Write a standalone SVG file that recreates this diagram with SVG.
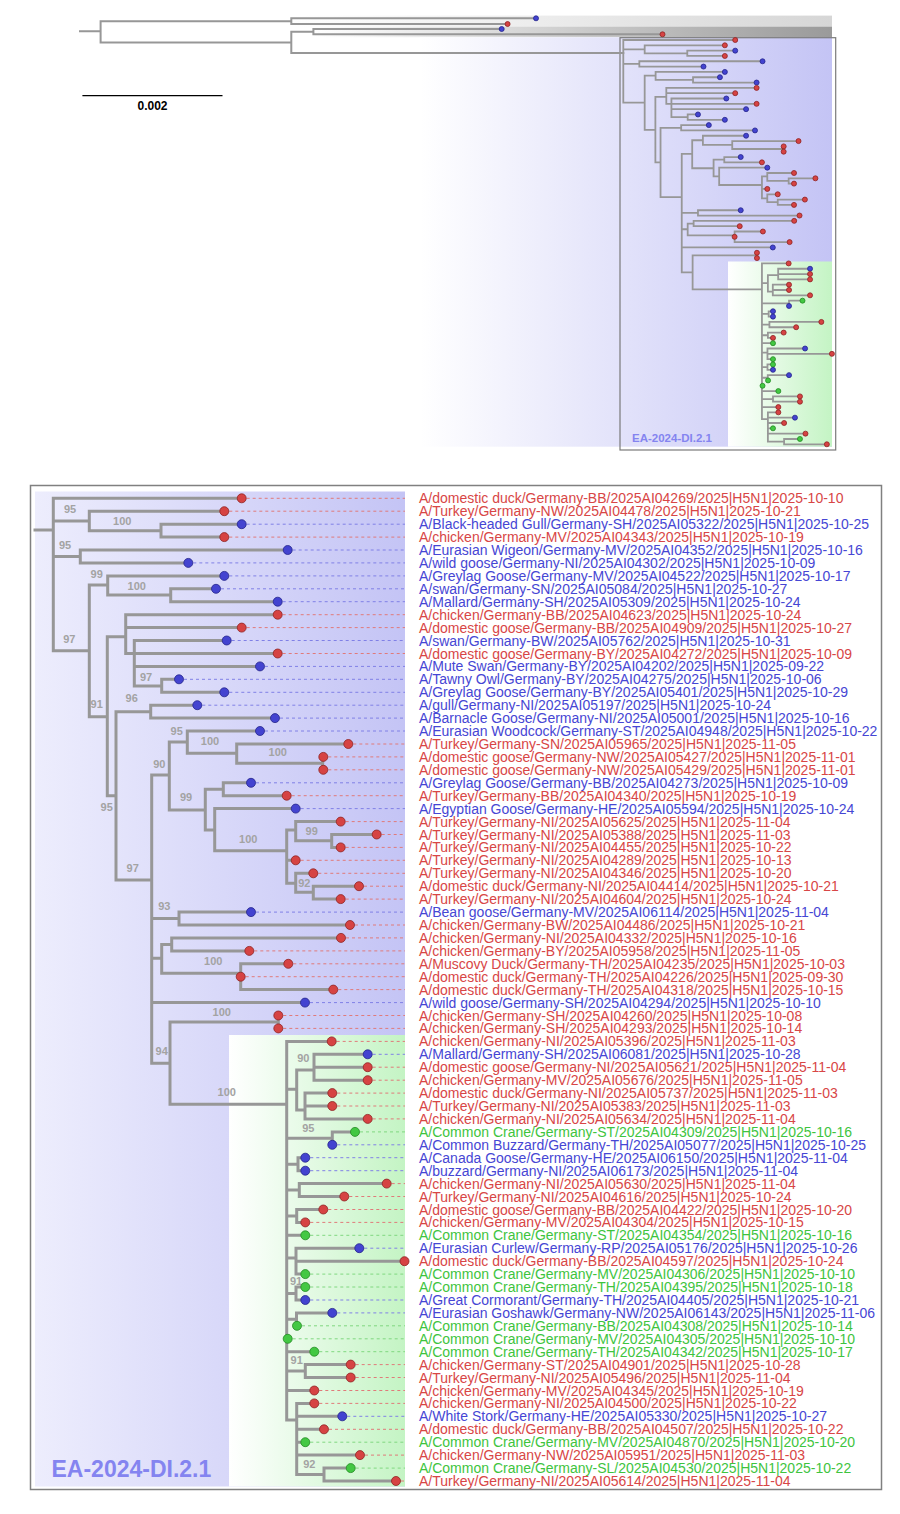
<svg xmlns="http://www.w3.org/2000/svg" xmlns:xlink="http://www.w3.org/1999/xlink" width="900" height="1514" viewBox="0 0 900 1514">
<defs>
<linearGradient id="gBlue" gradientUnits="userSpaceOnUse" x1="35" y1="0" x2="405" y2="0"><stop offset="0" stop-color="#ededfd"/><stop offset="1" stop-color="#c4c4f5"/></linearGradient>
<linearGradient id="gGreen" gradientUnits="userSpaceOnUse" x1="229" y1="0" x2="405" y2="0"><stop offset="0" stop-color="#ffffff"/><stop offset="1" stop-color="#c4f4c4"/></linearGradient>
<linearGradient id="gBlueTop" gradientUnits="userSpaceOnUse" x1="420" y1="0" x2="832" y2="0"><stop offset="0" stop-color="#ffffff"/><stop offset="1" stop-color="#c4c4f5"/></linearGradient>
<linearGradient id="gGreenTop" gradientUnits="userSpaceOnUse" x1="728" y1="0" x2="832" y2="0"><stop offset="0" stop-color="#ffffff"/><stop offset="1" stop-color="#c4f4c4"/></linearGradient>
<linearGradient id="gGrayL" gradientUnits="userSpaceOnUse" x1="291" y1="0" x2="832" y2="0"><stop offset="0" stop-color="#ffffff"/><stop offset="1" stop-color="#d6d6d6"/></linearGradient>
<linearGradient id="gGrayD" gradientUnits="userSpaceOnUse" x1="313" y1="0" x2="832" y2="0"><stop offset="0" stop-color="#ffffff"/><stop offset="1" stop-color="#9a9a9a"/></linearGradient>
</defs>
<style>
.br{fill:none;stroke:#979797;stroke-linecap:square}
circle,ellipse{stroke-width:0.8}
.r circle,.ir{fill:#d64343;stroke:#8e2323}
.b circle,.ib{fill:#4343d0;stroke:#24248a}
.g circle,.ig{fill:#43c843;stroke:#238a23}
#tips text{font-family:"Liberation Sans",Arial,sans-serif;font-size:14px}
.r text{fill:#d84646}
.b text{fill:#4646d4}
.g text{fill:#3ec43e}
.d{fill:none;stroke-width:1;stroke-dasharray:3 3}
.r .d{stroke:#e07a7a}
.b .d{stroke:#8080e6}
.g .d{stroke:#80d880}
.bs{font-family:"Liberation Sans",Arial,sans-serif;font-size:11px;font-weight:bold;fill:#a3a3a3;text-anchor:middle}
.clade{font-family:"Liberation Sans",Arial,sans-serif;font-weight:bold;fill:#8484f0}
</style>
<rect width="900" height="1514" fill="#ffffff"/>

<!-- top overview -->
<g id="top-bg">
<rect x="291" y="15.6" width="541" height="11" fill="url(#gGrayL)"/>
<rect x="313" y="26.6" width="519" height="10.6" fill="url(#gGrayD)"/>
<rect x="420" y="37.3" width="412" height="409.4" fill="url(#gBlueTop)"/>
<rect x="728" y="261.5" width="104" height="185.2" fill="url(#gGreenTop)"/>
<rect x="620" y="37.7" width="215.7" height="412.3" fill="none" stroke="#7a7a7a" stroke-width="1.2"/>
<text class="clade" x="632" y="442" font-size="11.5px">EA-2024-DI.2.1</text>
</g>
<g id="top-connectors" class="br" stroke-width="2">
<path d="M80 31.2H100.6M100.6 21.2V42.5M100.6 21.2H291.3M291.3 18.3V24M291.3 18.3H536M291.3 24H507.6M100.6 42.5H291.3M291.3 31.7V53M291.3 31.7H313.4M313.4 29V34.3M313.4 29H501.7M313.4 34.3H662.5M291.3 53H623.3"/>
</g>
<g id="top-tips">
<circle class="ib" cx="536" cy="18.3" r="2.5"/>
<circle class="ir" cx="507.6" cy="24" r="2.5"/>
<circle class="ib" cx="501.7" cy="29" r="2.5"/>
<circle class="ir" cx="662.5" cy="34.3" r="2.5"/>
</g>
<g id="scalebar">
<line x1="82.4" y1="95.7" x2="222.5" y2="95.7" stroke="#000" stroke-width="1.3"/>
<text x="152.5" y="110" text-anchor="middle" font-family="Liberation Sans, Arial, sans-serif" font-size="12px" font-weight="bold" fill="#000">0.002</text>
</g>

<!-- lower panel background -->
<g id="panel">
<rect x="30.5" y="485.5" width="851" height="1004" fill="#ffffff" stroke="#808080" stroke-width="1.5"/>
<rect x="35" y="491.5" width="370" height="995" fill="url(#gBlue)"/>
<rect x="229" y="1035" width="176" height="451.5" fill="url(#gGreen)"/>
<text class="clade" x="51.5" y="1477.3" font-size="23px">EA-2024-DI.2.1</text>
</g>

<!-- connectors -->
<g stroke-width="3">
<g id="connectors" class="br">
<path vector-effect="non-scaling-stroke" d="M35 530H53.3M53.3 498.3V650.7M53.3 498.3H241.7
M53.3 521H89.3M89.3 511.2V530.7M89.3 511.2H224.3
M89.3 530.7H161M161 524.2V537.1M161 524.2H241.7M161 537.1H224.3
M53.3 556.5H80.3M80.3 550V562.9M80.3 550H287.7M80.3 562.9H188.3
M53.3 650.7H89.3M89.3 585V716.7
M89.3 585H107.7M107.7 575.9V595M107.7 575.9H224.3
M107.7 595H170.7M170.7 588.8V601.7M170.7 588.8H216M170.7 601.7H277.7
M89.3 716.7H107.3M107.3 636.7V795.7
M107.3 636.7H125.7M125.7 614.7V653.5M125.7 614.7H277.7M125.7 627.6H241.7
M125.7 653.5H134.3M134.3 640.5V686M134.3 640.5H226.7M134.3 653.5H277.7M134.3 666.4H260
M134.3 686H161.7M161.7 679.3V692.3M161.7 679.3H179M161.7 692.3H224.3
M107.3 795.7H116M116 711.7V880
M116 711.7H150.7M150.7 705.2V718.1M150.7 705.2H197.3M150.7 718.1H275
M116 880H151.7M151.7 775V1063.3
M151.7 775H169.3M169.3 742V810
M169.3 742H187.3M187.3 731V753.3M187.3 731H260
M187.3 753.3H236.7M236.7 744V763.3M236.7 744H348.3
M236.7 763.3H322.7M322.7 756.9V769.8
M169.3 810H205.3M205.3 789.3V830
M205.3 789.3H223.3M223.3 782.8V795.7M223.3 782.8H251M223.3 795.7H286.7
M205.3 830H214.7M214.7 808.6V850.7M214.7 808.6H295.7
M214.7 850.7H286.7M286.7 830V883.3
M286.7 830H295.7M295.7 821.6V840.7M295.7 821.6H340.7
M295.7 840.7H331.7M331.7 834.5V847.4M331.7 834.5H376.7M331.7 847.4H340.7
M286.7 860.3H295.7
M286.7 883.3H295.7M295.7 873.3V892.3M295.7 873.3H313.3
M295.7 892.3H313.3M313.3 886.2V899.1M313.3 886.2H359M313.3 899.1H340.7
M151.7 918.5H179M179 912.1V925M179 912.1H251M179 925H350
M151.7 958.3H161.7M161.7 944.4V973.3
M161.7 944.4H171.7M171.7 937.9V950.9M171.7 937.9H341M171.7 950.9H249.3
M161.7 973.3H240.7M240.7 963.8V989.6M240.7 963.8H288.3M240.7 989.6H333.3
M151.7 1002.6H305
M151.7 1063.3H170M170 1021.9V1104.3
M170 1021.9H278.3M278.3 1015.5V1028.4
M170 1104.3H286.7M286.7 1041.4V1420
M286.7 1041.4H331.7
M286.7 1089.3H296.7M296.7 1070V1110
M296.7 1070H314M314 1054.3V1080.2M314 1054.3H367.7M314 1067.2H367.7M314 1080.2H367.7
M296.7 1110H305M305 1093.1V1118.9M305 1093.1H332.3M305 1106H332.3M305 1118.9H367.7
M286.7 1138.3H332.3M332.3 1131.9V1144.8M332.3 1131.9H355
M286.7 1164.2H298M298 1157.7V1170.7M298 1157.7H305.3M298 1170.7H305.3
M286.7 1190H299.3M299.3 1183.6V1196.5M299.3 1183.6H386.7M299.3 1196.5H344.3
M286.7 1216H296.7M296.7 1209.5V1222.4M296.7 1209.5H323.3M296.7 1222.4H305.3
M286.7 1235.3H305.3
M286.7 1258H296M296 1248.2V1274.1M296 1248.2H359.3M296 1261.2H404.5M296 1274.1H305.3
M286.7 1293.5H296M296 1287V1300M296 1287H305.3M296 1300H305.3
M286.7 1319.3H296.5M296.5 1312.9V1325.8M296.5 1312.9H332.3
M286.7 1351.7H314.3
M286.7 1371H305.3M305.3 1364.6V1377.5M305.3 1364.6H350.7M305.3 1377.5H350.7
M286.7 1390.5H314.3
M286.7 1420H296.7M296.7 1403.4V1474.5M296.7 1403.4H314.3M296.7 1416.3H342.3M296.7 1429.3H324M296.7 1442.2H305.3M296.7 1455.1H360
M296.7 1474.5H324M324 1468.1V1481M324 1468.1H350.7M324 1481H396"/>
</g>
</g>

<!-- bootstrap values -->
<g id="bootstrap" class="bs">
<text x="70" y="513">95</text>
<text x="122.3" y="524.7">100</text>
<text x="65" y="549">95</text>
<text x="96.7" y="578.3">99</text>
<text x="136.7" y="589.7">100</text>
<text x="69.3" y="643">97</text>
<text x="146" y="680.7">97</text>
<text x="131.7" y="702.3">96</text>
<text x="96.7" y="708">91</text>
<text x="176.7" y="734.7">95</text>
<text x="210" y="745">100</text>
<text x="277.7" y="755.7">100</text>
<text x="159.3" y="768">90</text>
<text x="186" y="801.3">99</text>
<text x="106.7" y="810.7">95</text>
<text x="311.7" y="834.7">99</text>
<text x="248.3" y="843">100</text>
<text x="132.7" y="872.3">97</text>
<text x="304.3" y="886.7">92</text>
<text x="164.3" y="909.7">93</text>
<text x="213.3" y="965">100</text>
<text x="221.7" y="1015.7">100</text>
<text x="161.7" y="1055">94</text>
<text x="303.3" y="1062.3">90</text>
<text x="226.7" y="1096.3">100</text>
<text x="308.3" y="1132.3">95</text>
<text x="296" y="1284.7">91</text>
<text x="296.7" y="1364">91</text>
<text x="309.3" y="1468">92</text>
</g>

<!-- inset (overview of the same clade) -->
<g id="inset" transform="matrix(0.594 0 0 0.4114 591.64 -165.0)">
<use xlink:href="#connectors" href="#connectors" stroke-width="1.8"/>
<g vector-effect="non-scaling-stroke">
<ellipse class="ir" vector-effect="non-scaling-stroke" cx="241.7" cy="498.3" rx="4.21" ry="6.08"/>
<ellipse class="ir" vector-effect="non-scaling-stroke" cx="224.3" cy="511.2" rx="4.21" ry="6.08"/>
<ellipse class="ib" vector-effect="non-scaling-stroke" cx="241.7" cy="524.2" rx="4.21" ry="6.08"/>
<ellipse class="ir" vector-effect="non-scaling-stroke" cx="224.3" cy="537.1" rx="4.21" ry="6.08"/>
<ellipse class="ib" vector-effect="non-scaling-stroke" cx="287.7" cy="550" rx="4.21" ry="6.08"/>
<ellipse class="ib" vector-effect="non-scaling-stroke" cx="188.3" cy="562.9" rx="4.21" ry="6.08"/>
<ellipse class="ib" vector-effect="non-scaling-stroke" cx="224.3" cy="575.9" rx="4.21" ry="6.08"/>
<ellipse class="ib" vector-effect="non-scaling-stroke" cx="216" cy="588.8" rx="4.21" ry="6.08"/>
<ellipse class="ib" vector-effect="non-scaling-stroke" cx="277.7" cy="601.7" rx="4.21" ry="6.08"/>
<ellipse class="ir" vector-effect="non-scaling-stroke" cx="277.7" cy="614.7" rx="4.21" ry="6.08"/>
<ellipse class="ir" vector-effect="non-scaling-stroke" cx="241.7" cy="627.6" rx="4.21" ry="6.08"/>
<ellipse class="ib" vector-effect="non-scaling-stroke" cx="226.7" cy="640.5" rx="4.21" ry="6.08"/>
<ellipse class="ir" vector-effect="non-scaling-stroke" cx="277.7" cy="653.5" rx="4.21" ry="6.08"/>
<ellipse class="ib" vector-effect="non-scaling-stroke" cx="260" cy="666.4" rx="4.21" ry="6.08"/>
<ellipse class="ib" vector-effect="non-scaling-stroke" cx="179" cy="679.3" rx="4.21" ry="6.08"/>
<ellipse class="ib" vector-effect="non-scaling-stroke" cx="224.3" cy="692.3" rx="4.21" ry="6.08"/>
<ellipse class="ib" vector-effect="non-scaling-stroke" cx="197.3" cy="705.2" rx="4.21" ry="6.08"/>
<ellipse class="ib" vector-effect="non-scaling-stroke" cx="275" cy="718.1" rx="4.21" ry="6.08"/>
<ellipse class="ib" vector-effect="non-scaling-stroke" cx="260" cy="731" rx="4.21" ry="6.08"/>
<ellipse class="ir" vector-effect="non-scaling-stroke" cx="348.3" cy="744" rx="4.21" ry="6.08"/>
<ellipse class="ir" vector-effect="non-scaling-stroke" cx="323.3" cy="756.9" rx="4.21" ry="6.08"/>
<ellipse class="ir" vector-effect="non-scaling-stroke" cx="323.3" cy="769.8" rx="4.21" ry="6.08"/>
<ellipse class="ib" vector-effect="non-scaling-stroke" cx="251" cy="782.8" rx="4.21" ry="6.08"/>
<ellipse class="ir" vector-effect="non-scaling-stroke" cx="286.7" cy="795.7" rx="4.21" ry="6.08"/>
<ellipse class="ib" vector-effect="non-scaling-stroke" cx="295.7" cy="808.6" rx="4.21" ry="6.08"/>
<ellipse class="ir" vector-effect="non-scaling-stroke" cx="340.7" cy="821.6" rx="4.21" ry="6.08"/>
<ellipse class="ir" vector-effect="non-scaling-stroke" cx="376.7" cy="834.5" rx="4.21" ry="6.08"/>
<ellipse class="ir" vector-effect="non-scaling-stroke" cx="340.7" cy="847.4" rx="4.21" ry="6.08"/>
<ellipse class="ir" vector-effect="non-scaling-stroke" cx="295.7" cy="860.3" rx="4.21" ry="6.08"/>
<ellipse class="ir" vector-effect="non-scaling-stroke" cx="313.3" cy="873.3" rx="4.21" ry="6.08"/>
<ellipse class="ir" vector-effect="non-scaling-stroke" cx="359" cy="886.2" rx="4.21" ry="6.08"/>
<ellipse class="ir" vector-effect="non-scaling-stroke" cx="340.7" cy="899.1" rx="4.21" ry="6.08"/>
<ellipse class="ib" vector-effect="non-scaling-stroke" cx="251" cy="912.1" rx="4.21" ry="6.08"/>
<ellipse class="ir" vector-effect="non-scaling-stroke" cx="350" cy="925" rx="4.21" ry="6.08"/>
<ellipse class="ir" vector-effect="non-scaling-stroke" cx="341" cy="937.9" rx="4.21" ry="6.08"/>
<ellipse class="ir" vector-effect="non-scaling-stroke" cx="249.3" cy="950.9" rx="4.21" ry="6.08"/>
<ellipse class="ir" vector-effect="non-scaling-stroke" cx="288.3" cy="963.8" rx="4.21" ry="6.08"/>
<ellipse class="ir" vector-effect="non-scaling-stroke" cx="240.7" cy="976.7" rx="4.21" ry="6.08"/>
<ellipse class="ir" vector-effect="non-scaling-stroke" cx="333.3" cy="989.6" rx="4.21" ry="6.08"/>
<ellipse class="ib" vector-effect="non-scaling-stroke" cx="305" cy="1002.6" rx="4.21" ry="6.08"/>
<ellipse class="ir" vector-effect="non-scaling-stroke" cx="278.3" cy="1015.5" rx="4.21" ry="6.08"/>
<ellipse class="ir" vector-effect="non-scaling-stroke" cx="278.3" cy="1028.4" rx="4.21" ry="6.08"/>
<ellipse class="ir" vector-effect="non-scaling-stroke" cx="331.7" cy="1041.4" rx="4.21" ry="6.08"/>
<ellipse class="ib" vector-effect="non-scaling-stroke" cx="367.7" cy="1054.3" rx="4.21" ry="6.08"/>
<ellipse class="ir" vector-effect="non-scaling-stroke" cx="367.7" cy="1067.2" rx="4.21" ry="6.08"/>
<ellipse class="ir" vector-effect="non-scaling-stroke" cx="367.7" cy="1080.2" rx="4.21" ry="6.08"/>
<ellipse class="ir" vector-effect="non-scaling-stroke" cx="332.3" cy="1093.1" rx="4.21" ry="6.08"/>
<ellipse class="ir" vector-effect="non-scaling-stroke" cx="332.3" cy="1106" rx="4.21" ry="6.08"/>
<ellipse class="ir" vector-effect="non-scaling-stroke" cx="367.7" cy="1118.9" rx="4.21" ry="6.08"/>
<ellipse class="ig" vector-effect="non-scaling-stroke" cx="355" cy="1131.9" rx="4.21" ry="6.08"/>
<ellipse class="ib" vector-effect="non-scaling-stroke" cx="332.3" cy="1144.8" rx="4.21" ry="6.08"/>
<ellipse class="ib" vector-effect="non-scaling-stroke" cx="305.3" cy="1157.7" rx="4.21" ry="6.08"/>
<ellipse class="ib" vector-effect="non-scaling-stroke" cx="305.3" cy="1170.7" rx="4.21" ry="6.08"/>
<ellipse class="ir" vector-effect="non-scaling-stroke" cx="386.7" cy="1183.6" rx="4.21" ry="6.08"/>
<ellipse class="ir" vector-effect="non-scaling-stroke" cx="344.3" cy="1196.5" rx="4.21" ry="6.08"/>
<ellipse class="ir" vector-effect="non-scaling-stroke" cx="323.3" cy="1209.5" rx="4.21" ry="6.08"/>
<ellipse class="ir" vector-effect="non-scaling-stroke" cx="305.3" cy="1222.4" rx="4.21" ry="6.08"/>
<ellipse class="ig" vector-effect="non-scaling-stroke" cx="305.3" cy="1235.3" rx="4.21" ry="6.08"/>
<ellipse class="ib" vector-effect="non-scaling-stroke" cx="359.3" cy="1248.2" rx="4.21" ry="6.08"/>
<ellipse class="ir" vector-effect="non-scaling-stroke" cx="404.5" cy="1261.2" rx="4.21" ry="6.08"/>
<ellipse class="ig" vector-effect="non-scaling-stroke" cx="305.3" cy="1274.1" rx="4.21" ry="6.08"/>
<ellipse class="ig" vector-effect="non-scaling-stroke" cx="305.3" cy="1287" rx="4.21" ry="6.08"/>
<ellipse class="ib" vector-effect="non-scaling-stroke" cx="305.3" cy="1300" rx="4.21" ry="6.08"/>
<ellipse class="ib" vector-effect="non-scaling-stroke" cx="332.3" cy="1312.9" rx="4.21" ry="6.08"/>
<ellipse class="ig" vector-effect="non-scaling-stroke" cx="297" cy="1325.8" rx="4.21" ry="6.08"/>
<ellipse class="ig" vector-effect="non-scaling-stroke" cx="287.7" cy="1338.8" rx="4.21" ry="6.08"/>
<ellipse class="ig" vector-effect="non-scaling-stroke" cx="314.3" cy="1351.7" rx="4.21" ry="6.08"/>
<ellipse class="ir" vector-effect="non-scaling-stroke" cx="350.7" cy="1364.6" rx="4.21" ry="6.08"/>
<ellipse class="ir" vector-effect="non-scaling-stroke" cx="350.7" cy="1377.5" rx="4.21" ry="6.08"/>
<ellipse class="ir" vector-effect="non-scaling-stroke" cx="314.3" cy="1390.5" rx="4.21" ry="6.08"/>
<ellipse class="ir" vector-effect="non-scaling-stroke" cx="314.3" cy="1403.4" rx="4.21" ry="6.08"/>
<ellipse class="ib" vector-effect="non-scaling-stroke" cx="342.3" cy="1416.3" rx="4.21" ry="6.08"/>
<ellipse class="ir" vector-effect="non-scaling-stroke" cx="324" cy="1429.3" rx="4.21" ry="6.08"/>
<ellipse class="ig" vector-effect="non-scaling-stroke" cx="305.3" cy="1442.2" rx="4.21" ry="6.08"/>
<ellipse class="ir" vector-effect="non-scaling-stroke" cx="360" cy="1455.1" rx="4.21" ry="6.08"/>
<ellipse class="ig" vector-effect="non-scaling-stroke" cx="350.7" cy="1468.1" rx="4.21" ry="6.08"/>
<ellipse class="ir" vector-effect="non-scaling-stroke" cx="396" cy="1481" rx="4.21" ry="6.08"/>
</g>
</g>

<!-- tips of the detailed tree -->
<g id="tips">
<g id="t1" class="r"><path class="d" d="M246.7 498.3H405"/><circle cx="241.7" cy="498.3" r="4.5"/><text x="419" y="503.3">A/domestic duck/Germany-BB/2025AI04269/2025|H5N1|2025-10-10</text></g>
<g id="t2" class="r"><path class="d" d="M229.3 511.2H405"/><circle cx="224.3" cy="511.2" r="4.5"/><text x="419" y="516.2">A/Turkey/Germany-NW/2025AI04478/2025|H5N1|2025-10-21</text></g>
<g id="t3" class="b"><path class="d" d="M246.7 524.2H405"/><circle cx="241.7" cy="524.2" r="4.5"/><text x="419" y="529.2">A/Black-headed Gull/Germany-SH/2025AI05322/2025|H5N1|2025-10-25</text></g>
<g id="t4" class="r"><path class="d" d="M229.3 537.1H405"/><circle cx="224.3" cy="537.1" r="4.5"/><text x="419" y="542.1">A/chicken/Germany-MV/2025AI04343/2025|H5N1|2025-10-19</text></g>
<g id="t5" class="b"><path class="d" d="M292.7 550H405"/><circle cx="287.7" cy="550" r="4.5"/><text x="419" y="555">A/Eurasian Wigeon/Germany-MV/2025AI04352/2025|H5N1|2025-10-16</text></g>
<g id="t6" class="b"><path class="d" d="M193.3 562.9H405"/><circle cx="188.3" cy="562.9" r="4.5"/><text x="419" y="567.9">A/wild goose/Germany-NI/2025AI04302/2025|H5N1|2025-10-09</text></g>
<g id="t7" class="b"><path class="d" d="M229.3 575.9H405"/><circle cx="224.3" cy="575.9" r="4.5"/><text x="419" y="580.9">A/Greylag Goose/Germany-MV/2025AI04522/2025|H5N1|2025-10-17</text></g>
<g id="t8" class="b"><path class="d" d="M221 588.8H405"/><circle cx="216" cy="588.8" r="4.5"/><text x="419" y="593.8">A/swan/Germany-SN/2025AI05084/2025|H5N1|2025-10-27</text></g>
<g id="t9" class="b"><path class="d" d="M282.7 601.7H405"/><circle cx="277.7" cy="601.7" r="4.5"/><text x="419" y="606.7">A/Mallard/Germany-SH/2025AI05309/2025|H5N1|2025-10-24</text></g>
<g id="t10" class="r"><path class="d" d="M282.7 614.7H405"/><circle cx="277.7" cy="614.7" r="4.5"/><text x="419" y="619.7">A/chicken/Germany-BB/2025AI04623/2025|H5N1|2025-10-24</text></g>
<g id="t11" class="r"><path class="d" d="M246.7 627.6H405"/><circle cx="241.7" cy="627.6" r="4.5"/><text x="419" y="632.6">A/domestic goose/Germany-BB/2025AI04909/2025|H5N1|2025-10-27</text></g>
<g id="t12" class="b"><path class="d" d="M231.7 640.5H405"/><circle cx="226.7" cy="640.5" r="4.5"/><text x="419" y="645.5">A/swan/Germany-BW/2025AI05762/2025|H5N1|2025-10-31</text></g>
<g id="t13" class="r"><path class="d" d="M282.7 653.5H405"/><circle cx="277.7" cy="653.5" r="4.5"/><text x="419" y="658.5">A/domestic goose/Germany-BY/2025AI04272/2025|H5N1|2025-10-09</text></g>
<g id="t14" class="b"><path class="d" d="M265 666.4H405"/><circle cx="260" cy="666.4" r="4.5"/><text x="419" y="671.4">A/Mute Swan/Germany-BY/2025AI04202/2025|H5N1|2025-09-22</text></g>
<g id="t15" class="b"><path class="d" d="M184 679.3H405"/><circle cx="179" cy="679.3" r="4.5"/><text x="419" y="684.3">A/Tawny Owl/Germany-BY/2025AI04275/2025|H5N1|2025-10-06</text></g>
<g id="t16" class="b"><path class="d" d="M229.3 692.3H405"/><circle cx="224.3" cy="692.3" r="4.5"/><text x="419" y="697.3">A/Greylag Goose/Germany-BY/2025AI05401/2025|H5N1|2025-10-29</text></g>
<g id="t17" class="b"><path class="d" d="M202.3 705.2H405"/><circle cx="197.3" cy="705.2" r="4.5"/><text x="419" y="710.2">A/gull/Germany-NI/2025AI05197/2025|H5N1|2025-10-24</text></g>
<g id="t18" class="b"><path class="d" d="M280 718.1H405"/><circle cx="275" cy="718.1" r="4.5"/><text x="419" y="723.1">A/Barnacle Goose/Germany-NI/2025AI05001/2025|H5N1|2025-10-16</text></g>
<g id="t19" class="b"><path class="d" d="M265 731H405"/><circle cx="260" cy="731" r="4.5"/><text x="419" y="736">A/Eurasian Woodcock/Germany-ST/2025AI04948/2025|H5N1|2025-10-22</text></g>
<g id="t20" class="r"><path class="d" d="M353.3 744H405"/><circle cx="348.3" cy="744" r="4.5"/><text x="419" y="749">A/Turkey/Germany-SN/2025AI05965/2025|H5N1|2025-11-05</text></g>
<g id="t21" class="r"><path class="d" d="M328.3 756.9H405"/><circle cx="323.3" cy="756.9" r="4.5"/><text x="419" y="761.9">A/domestic goose/Germany-NW/2025AI05427/2025|H5N1|2025-11-01</text></g>
<g id="t22" class="r"><path class="d" d="M328.3 769.8H405"/><circle cx="323.3" cy="769.8" r="4.5"/><text x="419" y="774.8">A/domestic goose/Germany-NW/2025AI05429/2025|H5N1|2025-11-01</text></g>
<g id="t23" class="b"><path class="d" d="M256 782.8H405"/><circle cx="251" cy="782.8" r="4.5"/><text x="419" y="787.8">A/Greylag Goose/Germany-BB/2025AI04273/2025|H5N1|2025-10-09</text></g>
<g id="t24" class="r"><path class="d" d="M291.7 795.7H405"/><circle cx="286.7" cy="795.7" r="4.5"/><text x="419" y="800.7">A/Turkey/Germany-BB/2025AI04340/2025|H5N1|2025-10-19</text></g>
<g id="t25" class="b"><path class="d" d="M300.7 808.6H405"/><circle cx="295.7" cy="808.6" r="4.5"/><text x="419" y="813.6">A/Egyptian Goose/Germany-HE/2025AI05594/2025|H5N1|2025-10-24</text></g>
<g id="t26" class="r"><path class="d" d="M345.7 821.6H405"/><circle cx="340.7" cy="821.6" r="4.5"/><text x="419" y="826.6">A/Turkey/Germany-NI/2025AI05625/2025|H5N1|2025-11-04</text></g>
<g id="t27" class="r"><path class="d" d="M381.7 834.5H405"/><circle cx="376.7" cy="834.5" r="4.5"/><text x="419" y="839.5">A/Turkey/Germany-NI/2025AI05388/2025|H5N1|2025-11-03</text></g>
<g id="t28" class="r"><path class="d" d="M345.7 847.4H405"/><circle cx="340.7" cy="847.4" r="4.5"/><text x="419" y="852.4">A/Turkey/Germany-NI/2025AI04455/2025|H5N1|2025-10-22</text></g>
<g id="t29" class="r"><path class="d" d="M300.7 860.3H405"/><circle cx="295.7" cy="860.3" r="4.5"/><text x="419" y="865.3">A/Turkey/Germany-NI/2025AI04289/2025|H5N1|2025-10-13</text></g>
<g id="t30" class="r"><path class="d" d="M318.3 873.3H405"/><circle cx="313.3" cy="873.3" r="4.5"/><text x="419" y="878.3">A/Turkey/Germany-NI/2025AI04346/2025|H5N1|2025-10-20</text></g>
<g id="t31" class="r"><path class="d" d="M364 886.2H405"/><circle cx="359" cy="886.2" r="4.5"/><text x="419" y="891.2">A/domestic duck/Germany-NI/2025AI04414/2025|H5N1|2025-10-21</text></g>
<g id="t32" class="r"><path class="d" d="M345.7 899.1H405"/><circle cx="340.7" cy="899.1" r="4.5"/><text x="419" y="904.1">A/Turkey/Germany-NI/2025AI04604/2025|H5N1|2025-10-24</text></g>
<g id="t33" class="b"><path class="d" d="M256 912.1H405"/><circle cx="251" cy="912.1" r="4.5"/><text x="419" y="917.1">A/Bean goose/Germany-MV/2025AI06114/2025|H5N1|2025-11-04</text></g>
<g id="t34" class="r"><path class="d" d="M355 925H405"/><circle cx="350" cy="925" r="4.5"/><text x="419" y="930">A/chicken/Germany-BW/2025AI04486/2025|H5N1|2025-10-21</text></g>
<g id="t35" class="r"><path class="d" d="M346 937.9H405"/><circle cx="341" cy="937.9" r="4.5"/><text x="419" y="942.9">A/chicken/Germany-NI/2025AI04332/2025|H5N1|2025-10-16</text></g>
<g id="t36" class="r"><path class="d" d="M254.3 950.9H405"/><circle cx="249.3" cy="950.9" r="4.5"/><text x="419" y="955.9">A/chicken/Germany-BY/2025AI05958/2025|H5N1|2025-11-05</text></g>
<g id="t37" class="r"><path class="d" d="M293.3 963.8H405"/><circle cx="288.3" cy="963.8" r="4.5"/><text x="419" y="968.8">A/Muscovy Duck/Germany-TH/2025AI04235/2025|H5N1|2025-10-03</text></g>
<g id="t38" class="r"><path class="d" d="M245.7 976.7H405"/><circle cx="240.7" cy="976.7" r="4.5"/><text x="419" y="981.7">A/domestic duck/Germany-TH/2025AI04226/2025|H5N1|2025-09-30</text></g>
<g id="t39" class="r"><path class="d" d="M338.3 989.6H405"/><circle cx="333.3" cy="989.6" r="4.5"/><text x="419" y="994.6">A/domestic duck/Germany-TH/2025AI04318/2025|H5N1|2025-10-15</text></g>
<g id="t40" class="b"><path class="d" d="M310 1002.6H405"/><circle cx="305" cy="1002.6" r="4.5"/><text x="419" y="1007.6">A/wild goose/Germany-SH/2025AI04294/2025|H5N1|2025-10-10</text></g>
<g id="t41" class="r"><path class="d" d="M283.3 1015.5H405"/><circle cx="278.3" cy="1015.5" r="4.5"/><text x="419" y="1020.5">A/chicken/Germany-SH/2025AI04260/2025|H5N1|2025-10-08</text></g>
<g id="t42" class="r"><path class="d" d="M283.3 1028.4H405"/><circle cx="278.3" cy="1028.4" r="4.5"/><text x="419" y="1033.4">A/chicken/Germany-SH/2025AI04293/2025|H5N1|2025-10-14</text></g>
<g id="t43" class="r"><path class="d" d="M336.7 1041.4H405"/><circle cx="331.7" cy="1041.4" r="4.5"/><text x="419" y="1046.4">A/chicken/Germany-NI/2025AI05396/2025|H5N1|2025-11-03</text></g>
<g id="t44" class="b"><path class="d" d="M372.7 1054.3H405"/><circle cx="367.7" cy="1054.3" r="4.5"/><text x="419" y="1059.3">A/Mallard/Germany-SH/2025AI06081/2025|H5N1|2025-10-28</text></g>
<g id="t45" class="r"><path class="d" d="M372.7 1067.2H405"/><circle cx="367.7" cy="1067.2" r="4.5"/><text x="419" y="1072.2">A/domestic goose/Germany-NI/2025AI05621/2025|H5N1|2025-11-04</text></g>
<g id="t46" class="r"><path class="d" d="M372.7 1080.2H405"/><circle cx="367.7" cy="1080.2" r="4.5"/><text x="419" y="1085.2">A/chicken/Germany-MV/2025AI05676/2025|H5N1|2025-11-05</text></g>
<g id="t47" class="r"><path class="d" d="M337.3 1093.1H405"/><circle cx="332.3" cy="1093.1" r="4.5"/><text x="419" y="1098.1">A/domestic duck/Germany-NI/2025AI05737/2025|H5N1|2025-11-03</text></g>
<g id="t48" class="r"><path class="d" d="M337.3 1106H405"/><circle cx="332.3" cy="1106" r="4.5"/><text x="419" y="1111">A/Turkey/Germany-NI/2025AI05383/2025|H5N1|2025-11-03</text></g>
<g id="t49" class="r"><path class="d" d="M372.7 1118.9H405"/><circle cx="367.7" cy="1118.9" r="4.5"/><text x="419" y="1123.9">A/chicken/Germany-NI/2025AI05634/2025|H5N1|2025-11-04</text></g>
<g id="t50" class="g"><path class="d" d="M360 1131.9H405"/><circle cx="355" cy="1131.9" r="4.5"/><text x="419" y="1136.9">A/Common Crane/Germany-ST/2025AI04309/2025|H5N1|2025-10-16</text></g>
<g id="t51" class="b"><path class="d" d="M337.3 1144.8H405"/><circle cx="332.3" cy="1144.8" r="4.5"/><text x="419" y="1149.8">A/Common Buzzard/Germany-TH/2025AI05077/2025|H5N1|2025-10-25</text></g>
<g id="t52" class="b"><path class="d" d="M310.3 1157.7H405"/><circle cx="305.3" cy="1157.7" r="4.5"/><text x="419" y="1162.7">A/Canada Goose/Germany-HE/2025AI06150/2025|H5N1|2025-11-04</text></g>
<g id="t53" class="b"><path class="d" d="M310.3 1170.7H405"/><circle cx="305.3" cy="1170.7" r="4.5"/><text x="419" y="1175.7">A/buzzard/Germany-NI/2025AI06173/2025|H5N1|2025-11-04</text></g>
<g id="t54" class="r"><path class="d" d="M391.7 1183.6H405"/><circle cx="386.7" cy="1183.6" r="4.5"/><text x="419" y="1188.6">A/chicken/Germany-NI/2025AI05630/2025|H5N1|2025-11-04</text></g>
<g id="t55" class="r"><path class="d" d="M349.3 1196.5H405"/><circle cx="344.3" cy="1196.5" r="4.5"/><text x="419" y="1201.5">A/Turkey/Germany-NI/2025AI04616/2025|H5N1|2025-10-24</text></g>
<g id="t56" class="r"><path class="d" d="M328.3 1209.5H405"/><circle cx="323.3" cy="1209.5" r="4.5"/><text x="419" y="1214.5">A/domestic goose/Germany-BB/2025AI04422/2025|H5N1|2025-10-20</text></g>
<g id="t57" class="r"><path class="d" d="M310.3 1222.4H405"/><circle cx="305.3" cy="1222.4" r="4.5"/><text x="419" y="1227.4">A/chicken/Germany-MV/2025AI04304/2025|H5N1|2025-10-15</text></g>
<g id="t58" class="g"><path class="d" d="M310.3 1235.3H405"/><circle cx="305.3" cy="1235.3" r="4.5"/><text x="419" y="1240.3">A/Common Crane/Germany-ST/2025AI04354/2025|H5N1|2025-10-16</text></g>
<g id="t59" class="b"><path class="d" d="M364.3 1248.2H405"/><circle cx="359.3" cy="1248.2" r="4.5"/><text x="419" y="1253.2">A/Eurasian Curlew/Germany-RP/2025AI05176/2025|H5N1|2025-10-26</text></g>
<g id="t60" class="r"><circle cx="404.5" cy="1261.2" r="4.5"/><text x="419" y="1266.2">A/domestic duck/Germany-BB/2025AI04597/2025|H5N1|2025-10-24</text></g>
<g id="t61" class="g"><path class="d" d="M310.3 1274.1H405"/><circle cx="305.3" cy="1274.1" r="4.5"/><text x="419" y="1279.1">A/Common Crane/Germany-MV/2025AI04306/2025|H5N1|2025-10-10</text></g>
<g id="t62" class="g"><path class="d" d="M310.3 1287H405"/><circle cx="305.3" cy="1287" r="4.5"/><text x="419" y="1292">A/Common Crane/Germany-TH/2025AI04395/2025|H5N1|2025-10-18</text></g>
<g id="t63" class="b"><path class="d" d="M310.3 1300H405"/><circle cx="305.3" cy="1300" r="4.5"/><text x="419" y="1305">A/Great Cormorant/Germany-TH/2025AI04405/2025|H5N1|2025-10-21</text></g>
<g id="t64" class="b"><path class="d" d="M337.3 1312.9H405"/><circle cx="332.3" cy="1312.9" r="4.5"/><text x="419" y="1317.9">A/Eurasian Goshawk/Germany-NW/2025AI06143/2025|H5N1|2025-11-06</text></g>
<g id="t65" class="g"><path class="d" d="M302 1325.8H405"/><circle cx="297" cy="1325.8" r="4.5"/><text x="419" y="1330.8">A/Common Crane/Germany-BB/2025AI04308/2025|H5N1|2025-10-14</text></g>
<g id="t66" class="g"><path class="d" d="M292.7 1338.8H405"/><circle cx="287.7" cy="1338.8" r="4.5"/><text x="419" y="1343.8">A/Common Crane/Germany-MV/2025AI04305/2025|H5N1|2025-10-10</text></g>
<g id="t67" class="g"><path class="d" d="M319.3 1351.7H405"/><circle cx="314.3" cy="1351.7" r="4.5"/><text x="419" y="1356.7">A/Common Crane/Germany-TH/2025AI04342/2025|H5N1|2025-10-17</text></g>
<g id="t68" class="r"><path class="d" d="M355.7 1364.6H405"/><circle cx="350.7" cy="1364.6" r="4.5"/><text x="419" y="1369.6">A/chicken/Germany-ST/2025AI04901/2025|H5N1|2025-10-28</text></g>
<g id="t69" class="r"><path class="d" d="M355.7 1377.5H405"/><circle cx="350.7" cy="1377.5" r="4.5"/><text x="419" y="1382.5">A/Turkey/Germany-NI/2025AI05496/2025|H5N1|2025-11-04</text></g>
<g id="t70" class="r"><path class="d" d="M319.3 1390.5H405"/><circle cx="314.3" cy="1390.5" r="4.5"/><text x="419" y="1395.5">A/chicken/Germany-MV/2025AI04345/2025|H5N1|2025-10-19</text></g>
<g id="t71" class="r"><path class="d" d="M319.3 1403.4H405"/><circle cx="314.3" cy="1403.4" r="4.5"/><text x="419" y="1408.4">A/chicken/Germany-NI/2025AI04500/2025|H5N1|2025-10-22</text></g>
<g id="t72" class="b"><path class="d" d="M347.3 1416.3H405"/><circle cx="342.3" cy="1416.3" r="4.5"/><text x="419" y="1421.3">A/White Stork/Germany-HE/2025AI05330/2025|H5N1|2025-10-27</text></g>
<g id="t73" class="r"><path class="d" d="M329 1429.3H405"/><circle cx="324" cy="1429.3" r="4.5"/><text x="419" y="1434.3">A/domestic duck/Germany-BB/2025AI04507/2025|H5N1|2025-10-22</text></g>
<g id="t74" class="g"><path class="d" d="M310.3 1442.2H405"/><circle cx="305.3" cy="1442.2" r="4.5"/><text x="419" y="1447.2">A/Common Crane/Germany-MV/2025AI04870/2025|H5N1|2025-10-20</text></g>
<g id="t75" class="r"><path class="d" d="M365 1455.1H405"/><circle cx="360" cy="1455.1" r="4.5"/><text x="419" y="1460.1">A/chicken/Germany-NW/2025AI05951/2025|H5N1|2025-11-03</text></g>
<g id="t76" class="g"><path class="d" d="M355.7 1468.1H405"/><circle cx="350.7" cy="1468.1" r="4.5"/><text x="419" y="1473.1">A/Common Crane/Germany-SL/2025AI04530/2025|H5N1|2025-10-22</text></g>
<g id="t77" class="r"><path class="d" d="M401 1481H405"/><circle cx="396" cy="1481" r="4.5"/><text x="419" y="1486">A/Turkey/Germany-NI/2025AI05614/2025|H5N1|2025-11-04</text></g>
</g>
</svg>
